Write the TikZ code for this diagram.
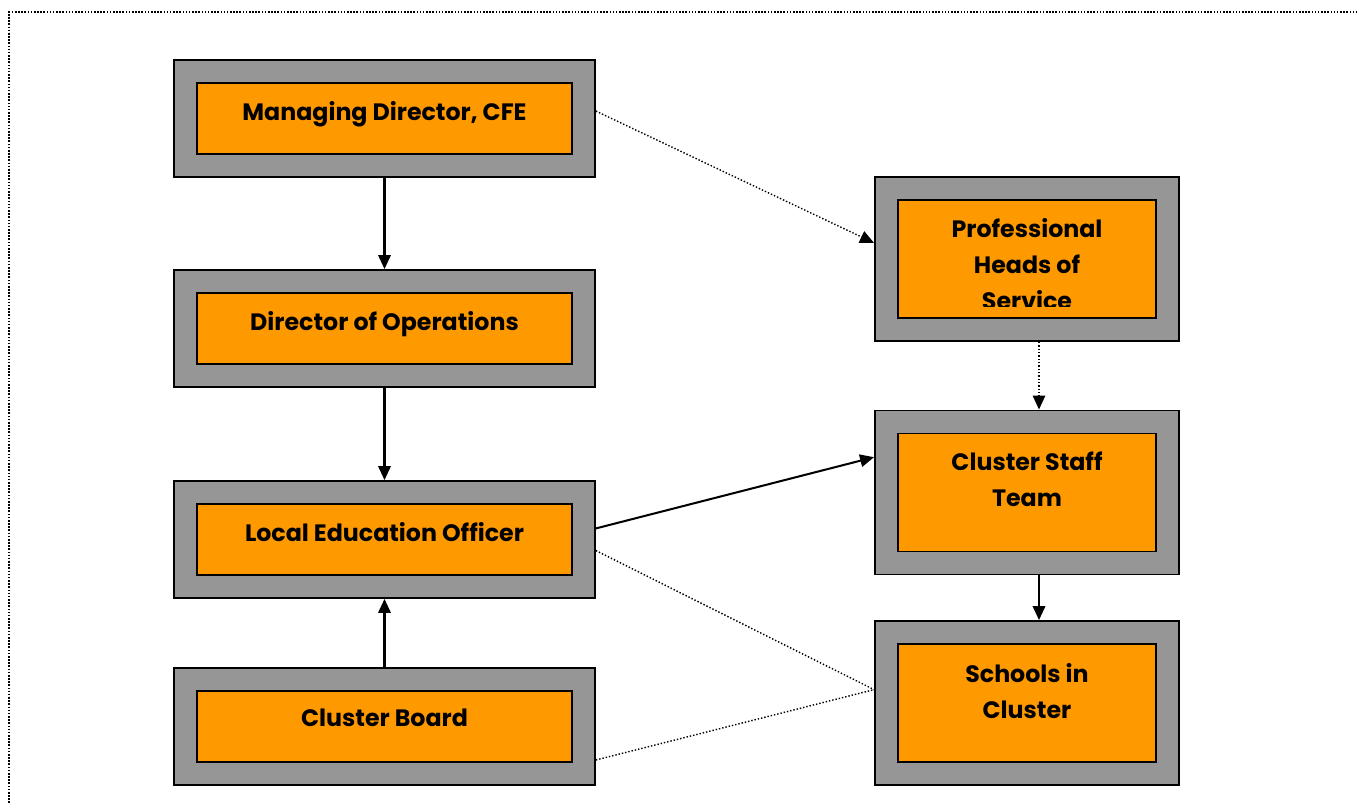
\documentclass[tikz,border=0pt]{standalone}
\usepackage{fontspec}
\setmainfont{Poppins}
\usetikzlibrary{arrows.meta}

\definecolor{framegray}{HTML}{969696}
\definecolor{cardorange}{HTML}{FF9900}

\tikzset{
	outerL/.style={draw=black,line width=1.1pt,fill=framegray,inner sep=0pt,
		minimum width=8.42cm,minimum height=2.34cm},
	innerL/.style={draw=black,line width=1.1pt,fill=cardorange,inner sep=0pt,
		minimum width=7.5cm,minimum height=1.42cm},
	outerR/.style={draw=black,line width=1.1pt,fill=framegray,inner sep=0pt,
		minimum width=6.08cm,minimum height=3.28cm},
	innerR/.style={draw=black,line width=1.1pt,fill=cardorange,inner sep=0pt,
		minimum width=5.16cm,minimum height=2.36cm},
	label/.style={anchor=north,inner sep=0pt,align=center,
		font=\fontsize{13.5}{20.5}\selectfont\bfseries},
	conn/.style={black,line width=1.15pt,-{Triangle[length=0.28cm,width=0.25cm]}},
	dotconn/.style={black,line width=0.8pt,dash pattern=on 0.8pt off 1.1pt},
	dotarrow/.style={dotconn,-{Triangle[length=0.28cm,width=0.25cm]}}
}

\begin{document}
\begin{tikzpicture}[x=0.02cm,y=-0.02cm]
\useasboundingbox (0,0) rectangle (1358,803);
%Rahmen
\draw [black,line width=0.9pt,dash pattern=on 0.9pt off 0.9pt] (9,803)--(9,12)--(1358,12);

%linke Spalte
\node[outerL] (md) at (384.5,118.5) {};
\node[innerL] (md-in) at (md.center) {};
\node[label] (md-txt) at (384.5,101) {Managing Director, CFE};
\node[outerL] (dops) at (384.5,328.5) {};
\node[innerL] (dops-in) at (dops.center) {};
\node[label] (dops-txt) at (384.5,311) {Director of Operations};
\node[outerL] (leo) at (384.5,539.5) {};
\node[innerL] (leo-in) at (leo.center) {};
\node[label] (leo-txt) at (384.5,522) {Local Education Officer};
\node[outerL] (cb) at (384.5,726.5) {};
\node[innerL] (cb-in) at (cb.center) {};
\node[label] (cb-txt) at (384.5,709) {Cluster Board};

%rechte Spalte
\node[outerR] (phs) at (1027,259) {};
\node[innerR] (phs-in) at (phs.center) {};
\begin{scope}
\clip (898,200) rectangle (1156,307);
\node[label] (phs-txt) at (1027,218) {Professional\\Heads of\\Service};
\end{scope}
\node[outerR] (cst) at (1027,492.5) {};
\node[innerR] (cst-in) at (cst.center) {};
\node[label] (cst-txt) at (1027,452) {Cluster Staff\\Team};
\node[outerR] (sic) at (1027,703) {};
\node[innerR] (sic-in) at (sic.center) {};
\node[label] (sic-txt) at (1027,663) {Schools in\\Cluster};

%Pfeile
\draw [conn] (md.south)--(dops.north);
\draw [conn] (dops.south)--(leo.north);
\draw [conn] (cb.north)--(leo.south);
\draw [dotarrow] (md.2.3)--(phs.174.7);
\draw [dotarrow] ([xshift=0.24cm]phs.south)--([xshift=0.24cm]cst.north);
\draw [conn] (leo.3.4)--(cst.167.2);
\draw [conn] ([xshift=0.24cm]cst.south)--([xshift=0.24cm]sic.north);
\draw [dotconn] (leo.-3.1)--(sic.175.1);
\draw [dotconn] (cb.-9.3)--(sic.175.1);
\end{tikzpicture}
\end{document}
